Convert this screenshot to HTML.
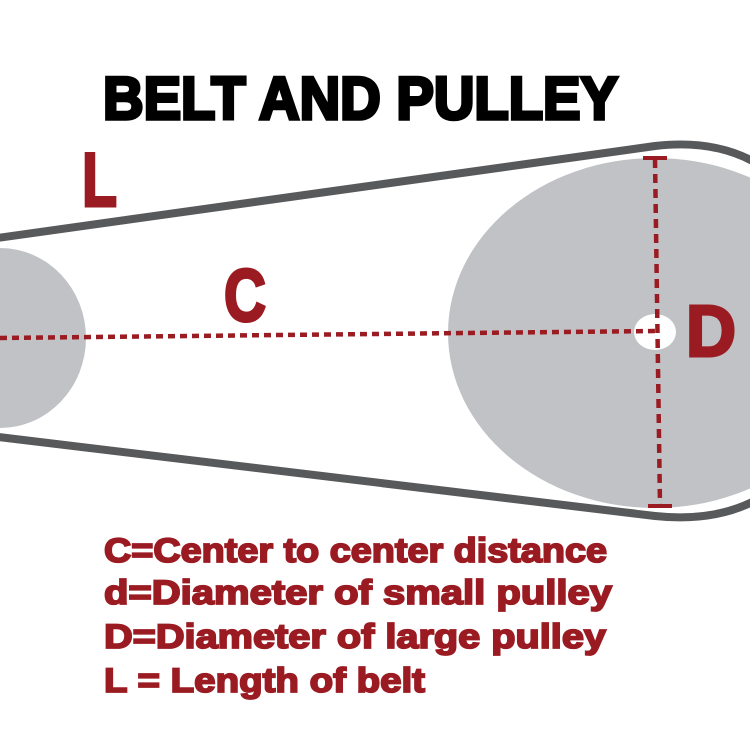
<!DOCTYPE html>
<html><head><meta charset="utf-8"><style>
html,body{margin:0;padding:0;background:#fff;}
svg{display:block;}
</style></head><body>
<svg width="750" height="750" viewBox="0 0 750 750" xmlns="http://www.w3.org/2000/svg">
<rect width="750" height="750" fill="#fff"/>
<ellipse cx="0" cy="338" rx="86" ry="90" fill="#c0c2c5"/>
<ellipse cx="655" cy="333" rx="207" ry="175" fill="#c0c2c5"/>
<path d="M -10 239 L 655 146 Q 740 136 790 190 M 790 475 Q 740 525 655 516 L -10 436" fill="none" stroke="#58595b" stroke-width="8"/>
<ellipse cx="655" cy="332" rx="21" ry="18" fill="#fff"/>
<line x1="0" y1="338" x2="655" y2="331" stroke="#9b1b22" stroke-width="4.5" stroke-dasharray="7,5"/>
<line x1="655" y1="159" x2="660" y2="506" stroke="#9b1b22" stroke-width="4.5" stroke-dasharray="9,6"/>
<line x1="643" y1="158" x2="667" y2="158" stroke="#9b1b22" stroke-width="4"/>
<line x1="648" y1="506" x2="672" y2="506" stroke="#9b1b22" stroke-width="4"/>
<g font-family="Liberation Sans, sans-serif" font-weight="bold" fill="#9b1b22" stroke="#9b1b22" stroke-width="3">
<text x="82" y="206" font-size="76" textLength="35" lengthAdjust="spacingAndGlyphs">L</text>
<text x="224" y="321" font-size="74" textLength="42" lengthAdjust="spacingAndGlyphs">C</text>
<text x="686" y="356" font-size="72" textLength="50" lengthAdjust="spacingAndGlyphs">D</text>
</g>
<text x="103" y="119" font-family="Liberation Sans, sans-serif" font-weight="900" font-size="60" textLength="515" lengthAdjust="spacingAndGlyphs" fill="#000" stroke="#000" stroke-width="3.5">BELT AND PULLEY</text>
<g font-family="Liberation Sans, sans-serif" font-weight="bold" font-size="34" fill="#9b1b22" stroke="#9b1b22" stroke-width="1.8">
<text x="104" y="562" textLength="503" lengthAdjust="spacingAndGlyphs">C=Center to center distance</text>
<text x="104" y="604" textLength="508" lengthAdjust="spacingAndGlyphs">d=Diameter of small pulley</text>
<text x="104" y="648" textLength="502" lengthAdjust="spacingAndGlyphs">D=Diameter of large pulley</text>
<text x="104" y="692" textLength="321" lengthAdjust="spacingAndGlyphs">L = Length of belt</text>
</g>
</svg>
</body></html>
